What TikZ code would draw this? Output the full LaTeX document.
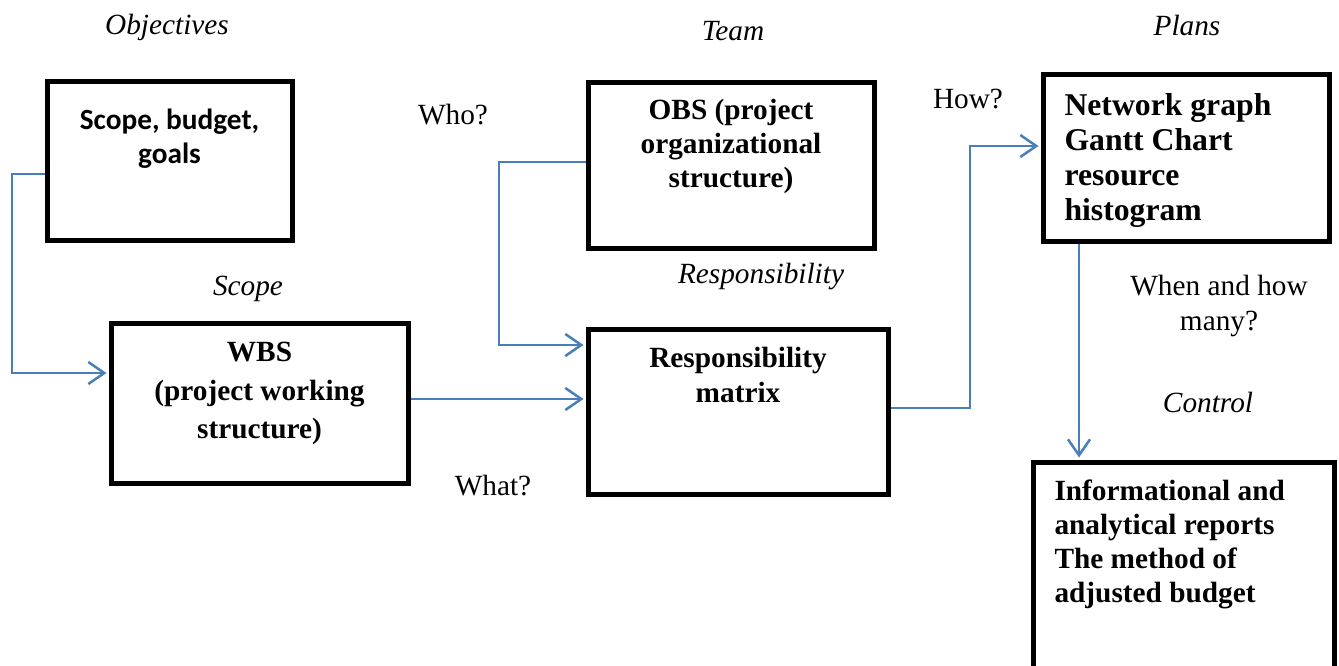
\documentclass[tikz,border=0pt]{standalone}
\usepackage{fontspec}
\setmainfont{Liberation Serif}
\newfontfamily\calibrifont{Carlito}
\usetikzlibrary{arrows.meta}
\definecolor{linkblue}{HTML}{4A7EBB}
% box content: width, height, first-baseline drop, alignment, text
\newcommand\boxbody[5]{\begin{minipage}[t][#2pt][t]{#1pt}#4\rule{0pt}{#3pt}#5\par\end{minipage}}

\begin{document}
\begin{tikzpicture}[x=1pt,y=-1pt,
  box/.style={draw, line width=5pt, inner sep=0pt, anchor=north west},
  conn/.style={draw=linkblue, line width=2.5pt},
  arr/.style={conn, -{Straight Barb[length=16pt,width=22pt]}, shorten >=2pt},
  lab/.style={inner sep=0pt, anchor=base, font=\fontsize{29.3}{35}\selectfont},
  ilab/.style={inner sep=0pt, anchor=base, font=\fontsize{29.3}{35}\selectfont\itshape}
]
\useasboundingbox (0,0) rectangle (1339,665);
\clip (0,0) rectangle (1339,665);

% boxes
\node[box, font=\calibrifont\bfseries\fontsize{29.3}{34}\selectfont] (scope) at (44.5,78.5)
  {\boxbody{245}{159}{48.5}{\centering}{Scope, budget,\\goals}};
\node[box, font=\bfseries\fontsize{29.3}{38.7}\selectfont] (wbs) at (108.5,320.5)
  {\boxbody{297}{160}{38.5}{\centering}{WBS\\(project working\\structure)}};
\node[box, font=\bfseries\fontsize{29.3}{34}\selectfont] (obs) at (585.5,79.5)
  {\boxbody{286}{166}{37.5}{\centering}{OBS (project\\organizational\\structure)}};
\node[box, font=\bfseries\fontsize{29.3}{35}\selectfont] (resp) at (585.5,326.5)
  {\boxbody{300}{165}{38.5}{\centering}{Responsibility\\matrix}};
\node[box, font=\bfseries\fontsize{31.7}{35}\selectfont] (net) at (1040.5,71.5)
  {\boxbody{286}{167}{41.5}{\raggedright\leftskip=21.5pt}{Network graph\\Gantt Chart\\resource\\histogram}};
\node[box, font=\bfseries\fontsize{29.3}{34}\selectfont] (info) at (1030.5,459.5)
  {\boxbody{301}{260}{38.5}{\raggedright\leftskip=21.5pt}{Informational and\\analytical reports\\The method of\\adjusted budget}};

% captions
\node[ilab] (tObj) at (167,34) {Objectives};
\node[ilab] (tTeam) at (733,40) {Team};
\node[ilab] (tPlans) at (1187,35) {Plans};
\node[ilab] (tScope) at (248,295) {Scope};
\node[ilab] (tResp) at (761,283) {Responsibility};
\node[ilab] (tCtrl) at (1208,412) {Control};
\node[lab] (qWho) at (453,124) {Who?};
\node[lab] (qHow) at (968,108) {How?};
\node[lab] (qWhat) at (493,495) {What?};
\node[lab, anchor=north, align=center] (qWhen) at (1219,272) {\rule{0pt}{23pt}When and how\\many?};

% bend points
\coordinate (j1) at (12,174);
\coordinate (j2) at (12,373);
\coordinate (j3) at (499,162);
\coordinate (j4) at (499,345);
\coordinate (j5) at (0,399);
\coordinate (j6) at (970,408);
\coordinate (j7) at (970,146);
\coordinate (j8) at (1079,0);

% connectors
\draw[arr] (scope.west |- j1) -- (j1) -- (j2) -- (wbs.west |- j2);
\draw[arr] (obs.west |- j3) -- (j3) -- (j4) -- (resp.west |- j4);
\draw[arr] (wbs.east |- j5) -- (resp.west |- j5);
\draw[arr] (resp.east |- j6) -- (j6) -- (j7) -- (net.west |- j7);
\draw[arr] (net.south -| j8) -- (info.north -| j8);
\end{tikzpicture}
\end{document}
